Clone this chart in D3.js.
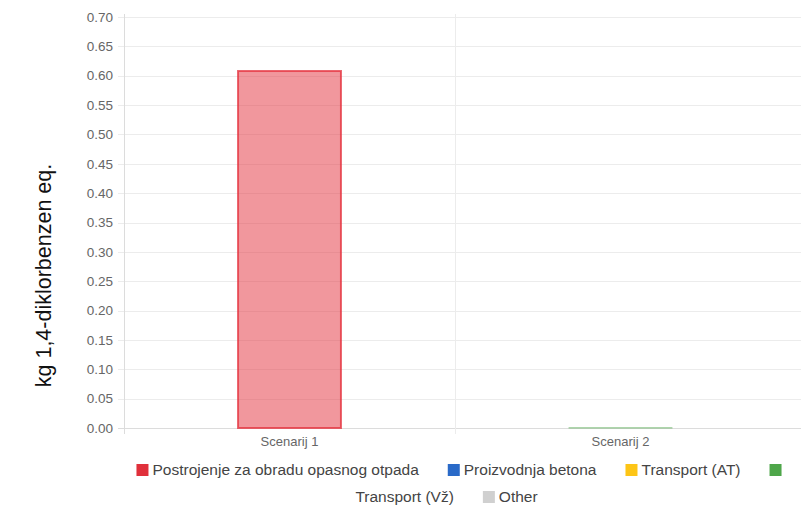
<!DOCTYPE html>
<html>
<head>
<meta charset="utf-8">
<script src="https://cdn.jsdelivr.net/npm/d3@7"></script>
<style>
  body { margin: 0; background: #fff; }
  text { font-family: "Liberation Sans", Arial, sans-serif; }
</style>
</head>
<body>
<div id="chart"></div>
<script>
const width = 801, height = 515;

// data
const categories = ['Scenarij 1', 'Scenarij 2'];
const seriesNames = ['Postrojenje za obradu opasnog otpada', 'Proizvodnja betona', 'Transport (AT)', 'Transport (Vž)', 'Other'];
const postrojenje = [0.608, 0];
const beton = [0, 0];
const transportAT = [0, 0];
const transportVz = [0, 0.0003];
const other = [0, 0];
const yTicks = [0, 0.05, 0.1, 0.15, 0.2, 0.25, 0.3, 0.35, 0.4, 0.45, 0.5, 0.55, 0.6, 0.65, 0.7];

const colorpel = {
  fill: ['rgba(228,48,60,0.5)', 'rgba(42,106,200,0.5)', 'rgba(253,197,22,0.5)', 'rgba(78,166,74,0.5)', 'rgba(200,200,200,0.5)'],
  line: ['rgba(228,48,60,0.75)', 'rgba(42,106,200,0.75)', 'rgba(253,197,22,0.75)', 'rgba(78,166,74,0.6)', 'rgba(200,200,200,0.75)'],
  legend: ['#e0303b', '#2a6ac8', '#fdc516', '#4ea64a', '#d0d0d0'],
  grid: '#ececec', tick: '#666', text: '#444'
};

const m = {left: 124, right: 786, top: 17, bottom: 428};

const svg = d3.select('#chart').append('svg')
  .attr('width', width).attr('height', height);

const x = d3.scaleBand().domain(categories).range([m.left, m.right]);
const y = d3.scaleLinear().domain([0, 0.7]).range([m.bottom, m.top]);

// grid
const g_grid = svg.append('g').attr('class', 'grid');
g_grid.selectAll('.hgrid').data(yTicks).enter().append('line')
  .attr('x1', m.left - 6).attr('x2', width)
  .attr('y1', d => Math.round(y(d)) + 0.5).attr('y2', d => Math.round(y(d)) + 0.5)
  .attr('stroke', d => d === 0 ? '#dcdcdc' : colorpel.grid);

const bounds = [m.left, x(categories[1])];
g_grid.selectAll('.vgrid').data(bounds).enter().append('line')
  .attr('x1', d => Math.round(d) + 0.5).attr('x2', d => Math.round(d) + 0.5)
  .attr('y1', m.top - 3).attr('y2', m.bottom + 6)
  .attr('stroke', (d, i) => i === 0 ? '#dcdcdc' : colorpel.grid);

// y tick labels
svg.append('g').selectAll('text').data(yTicks).enter().append('text')
  .attr('x', 113).attr('y', d => y(d))
  .attr('dy', '0.35em')
  .attr('text-anchor', 'end')
  .attr('font-size', '13.5px')
  .attr('fill', colorpel.tick)
  .text(d3.format('.2f'));

// x labels
svg.append('g').selectAll('text').data(categories).enter().append('text')
  .attr('x', d => x(d) + x.bandwidth() / 2).attr('y', 446)
  .attr('text-anchor', 'middle')
  .attr('font-size', '13px')
  .attr('fill', colorpel.tick)
  .text(d => d);

// stacked bars
const rows = categories.map((c, i) => {
  const r = {cat: c};
  [postrojenje, beton, transportAT, transportVz, other].forEach((s, k) => r[seriesNames[k]] = s[i]);
  return r;
});
const stack = d3.stack().keys(seriesNames)(rows);
const barW = x.bandwidth() * 0.317;

const g_bars = svg.append('g');
stack.forEach((layer, k) => {
  g_bars.selectAll('.b' + k).data(layer.filter(d => d[1] - d[0] > 0)).enter().append('rect')
    .attr('x', d => x(d.data.cat) + (x.bandwidth() - barW) / 2 + 1)
    .attr('width', barW - 2)
    .attr('y', d => y(d[1]))
    .attr('height', d => Math.max(0, y(d[0]) - y(d[1])))
    .attr('fill', colorpel.fill[k])
    .attr('stroke', colorpel.line[k])
    .attr('stroke-width', d => y(d[0]) - y(d[1]) < 2 ? 1 : 2);
});

// legend - flow layout, centred lines
const g_leg = svg.append('g');
const tokens = [];
seriesNames.forEach((n, i) => {
  tokens.push({type: 'box', i: i, w: 12, gap: 4});
  const t = g_leg.append('text').attr('font-size', '15.5px').attr('fill', colorpel.text).text(n);
  tokens.push({type: 'text', i: i, node: t, w: t.node().getComputedTextLength(), gap: 29});
});
const maxW = 680, legCenter = 461;
const lines = [[]];
let cur = 0;
tokens.forEach(t => {
  if (cur + t.w > maxW && lines[lines.length - 1].length) { lines.push([]); cur = 0; }
  lines[lines.length - 1].push(t);
  cur += t.w + t.gap;
});
lines.forEach((ln, li) => {
  const tot = d3.sum(ln, t => t.w + t.gap);
  let px = legCenter - tot / 2;
  const cy = 470 + li * 27;
  ln.forEach(t => {
    if (t.type === 'box') {
      g_leg.append('rect').attr('x', px).attr('y', cy - 6).attr('width', 12).attr('height', 12)
        .attr('fill', colorpel.legend[t.i]);
    } else {
      t.node.attr('x', px).attr('y', cy).attr('dy', '0.35em');
    }
    px += t.w + t.gap;
  });
});

// y axis title
svg.append('text')
  .attr('transform', 'translate(51,275.5) rotate(-90)')
  .attr('text-anchor', 'middle')
  .attr('font-size', '21.5px')
  .attr('fill', '#111')
  .text('kg 1,4-diklorbenzen eq.');
</script>
</body>
</html>
